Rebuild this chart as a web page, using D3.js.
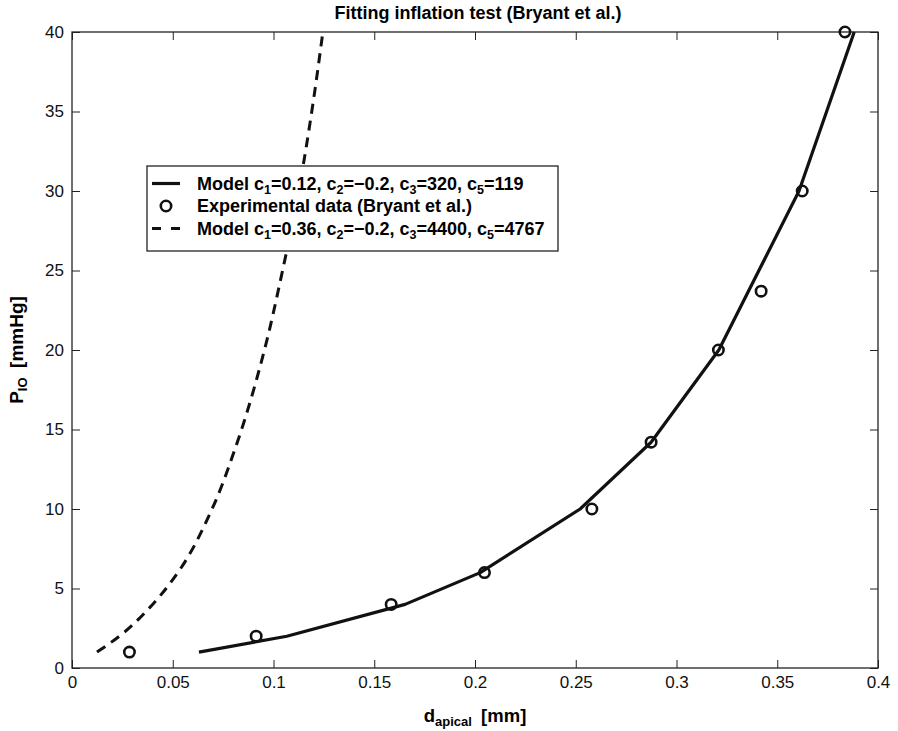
<!DOCTYPE html>
<html>
<head>
<meta charset="utf-8">
<script src="https://cdn.jsdelivr.net/npm/d3@7"></script>
<style>
  body { margin: 0; background: #fff; }
  svg { font-family: "Liberation Sans", Arial, Helvetica, sans-serif; }
</style>
</head>
<body>
<svg id="chart" width="898" height="731"></svg>
<script>
// experimental points (Bryant et al.)
var expX = [0.0285, 0.0914, 0.1584, 0.2047, 0.258, 0.2874, 0.3208, 0.342, 0.3624, 0.3836];
var expY = [1, 2, 4, 6, 10, 14.2, 20, 23.7, 30, 40];
// fitted model c1=0.12
var fitX = [0.063, 0.1066, 0.1653, 0.2026, 0.2522, 0.2874, 0.321, 0.3608, 0.3882];
var fitY = [1, 2, 4, 6, 10, 14.2, 20, 30, 40];
// model c1=0.36
var altX = [0.0124, 0.0235, 0.040, 0.0525, 0.0695, 0.0815, 0.0955, 0.1045, 0.1125, 0.119, 0.1245];
var altY = [1, 2, 4, 6, 10, 14, 20, 25, 30, 35, 40];

var xTicks = [0, 0.05, 0.1, 0.15, 0.2, 0.25, 0.3, 0.35, 0.4];
var yTicks = [0, 5, 10, 15, 20, 25, 30, 35, 40];

var legendLabels = [
    "Model c_1=0.12, c_2=\u22120.2, c_3=320, c_5=119",
    "Experimental data (Bryant et al.)",
    "Model c_1=0.36, c_2=\u22120.2, c_3=4400, c_5=4767"
];

var svg = d3.select('#chart');
var margin = { left: 72, top: 32, right: 20, bottom: 63 };
var width = 898 - margin.left - margin.right;
var height = 731 - margin.top - margin.bottom;

var x = d3.scaleLinear().domain([0, 0.4]).range([0, width]);
var y = d3.scaleLinear().domain([0, 40]).range([height, 0]);

var g = svg.append('g').attr('transform', 'translate(' + margin.left + ',' + margin.top + ')');

// axes, ticks pointing inwards
function styleAxis(a) {
    a.select('.domain').remove();
    a.selectAll('line').attr('stroke', '#222').attr('stroke-width', 1);
    a.selectAll('text').attr('font-size', 17).attr('fill', '#111');
}
g.append('g').attr('transform', 'translate(0,' + height + ')')
    .call(d3.axisBottom(x).tickValues(xTicks).tickFormat(d3.format('')).tickSizeInner(-8).tickSizeOuter(0).tickPadding(8))
    .call(styleAxis);
g.append('g')
    .call(d3.axisLeft(y).tickValues(yTicks).tickSizeInner(-8).tickSizeOuter(0).tickPadding(8))
    .call(styleAxis);
g.append('g')
    .call(d3.axisTop(x).tickValues(xTicks).tickFormat('').tickSizeInner(-8).tickSizeOuter(0))
    .call(styleAxis);
g.append('g').attr('transform', 'translate(' + width + ',0)')
    .call(d3.axisRight(y).tickValues(yTicks).tickFormat('').tickSizeInner(-8).tickSizeOuter(0))
    .call(styleAxis);

g.append('rect').attr('width', width).attr('height', height)
    .attr('fill', 'none').attr('stroke', '#222').attr('stroke-width', 1.3);

var line = d3.line()
    .x(function (d) { return x(d[0]); })
    .y(function (d) { return y(d[1]); });

g.append('path')
    .datum(altX.map(function (v, i) { return [v, altY[i]]; }))
    .attr('d', line.curve(d3.curveMonotoneY))
    .attr('fill', 'none').attr('stroke', '#111').attr('stroke-width', 3)
    .attr('stroke-dasharray', '10,7');

g.append('path')
    .datum(fitX.map(function (v, i) { return [v, fitY[i]]; }))
    .attr('d', d3.line().x(function (d) { return x(d[0]); }).y(function (d) { return y(d[1]); }))
    .attr('fill', 'none').attr('stroke', '#111').attr('stroke-width', 3.2)
    .attr('stroke-linejoin', 'round');

g.selectAll('circle.exp')
    .data(expX.map(function (v, i) { return [v, expY[i]]; }))
    .enter().append('circle').attr('class', 'exp')
    .attr('cx', function (d) { return x(d[0]); })
    .attr('cy', function (d) { return y(d[1]); })
    .attr('r', 5.2)
    .attr('fill', 'none').attr('stroke', '#111').attr('stroke-width', 2.6);

// title and axis labels
svg.append('text').attr('x', margin.left + width / 2 + 3).attr('y', 19)
    .attr('text-anchor', 'middle').attr('font-weight', 'bold').attr('font-size', 18)
    .text('Fitting inflation test (Bryant et al.)');

var xl = svg.append('text').attr('x', margin.left + width / 2).attr('y', 722)
    .attr('text-anchor', 'middle').attr('font-weight', 'bold').attr('font-size', 18.5);
xl.append('tspan').text('d');
xl.append('tspan').text('apical').attr('font-size', 13).attr('dy', 4);
xl.append('tspan').text('\u2002[mm]').attr('dy', -4);

var yl = svg.append('text').attr('transform', 'translate(23,' + (margin.top + height / 2) + ') rotate(-90)')
    .attr('text-anchor', 'middle').attr('font-weight', 'bold').attr('font-size', 19);
yl.append('tspan').text('P');
yl.append('tspan').text('IO').attr('font-size', 13).attr('dy', 4);
yl.append('tspan').text('\u2002[mmHg]').attr('dy', -4);

// legend
var lg = svg.append('g').attr('transform', 'translate(147,166)');
lg.append('rect').attr('width', 411).attr('height', 85)
    .attr('fill', '#fff').attr('stroke', '#222').attr('stroke-width', 1.3);
var rows = [17.5, 40, 62.5];
legendLabels.forEach(function (lab, i) {
    var t = lg.append('text').attr('x', 50).attr('y', rows[i] + 6)
        .attr('font-weight', 'bold').attr('font-size', 18);
    var parts = lab.split(/_(\w)/);
    var sub = false;
    parts.forEach(function (p, j) {
        if (j % 2 === 1) {
            t.append('tspan').text(p).attr('font-size', 12.5).attr('dy', 4);
            sub = true;
        } else {
            var ts = t.append('tspan').text(p);
            if (sub) ts.attr('dy', -4);
            sub = false;
        }
    });
});
lg.append('line').attr('x1', 5).attr('x2', 33).attr('y1', rows[0]).attr('y2', rows[0])
    .attr('stroke', '#111').attr('stroke-width', 3.2);
lg.append('circle').attr('cx', 19).attr('cy', rows[1]).attr('r', 5.2)
    .attr('fill', 'none').attr('stroke', '#111').attr('stroke-width', 2.6);
lg.append('line').attr('x1', 5).attr('x2', 33).attr('y1', rows[2]).attr('y2', rows[2])
    .attr('stroke', '#111').attr('stroke-width', 3.2).attr('stroke-dasharray', '9,10');
</script>
</body>
</html>
